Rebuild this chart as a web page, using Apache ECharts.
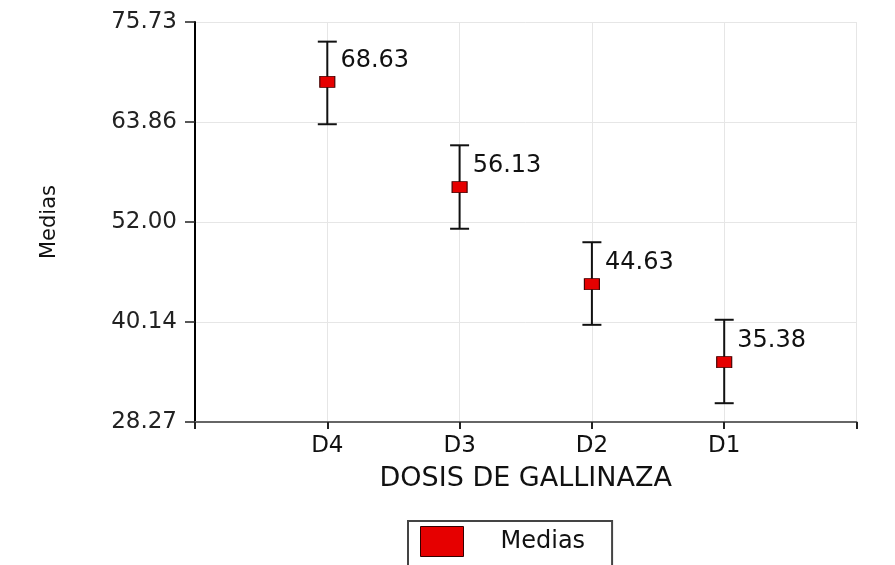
<!DOCTYPE html>
<html>
<head>
<meta charset="utf-8">
<script src="https://cdn.jsdelivr.net/npm/echarts@6/dist/echarts.min.js"></script>
<style>
html,body{margin:0;padding:0;background:#fff;}
#chart{width:895px;height:565px;}
</style>
</head>
<body>
<div id="chart"></div>
<script>
// ---- data ----
var categories = ['D4', 'D3', 'D2', 'D1'];
var means = [68.63, 56.13, 44.63, 35.38];
var lowers = [63.6, 51.2, 39.8, 30.5];
var uppers = [73.4, 61.1, 49.6, 40.4];
var yTickLabels = ['28.27', '40.14', '52.00', '63.86', '75.73'];
var yMin = 28.27, yMax = 75.73;
var seriesName = 'Medias';
var xAxisTitle = 'DOSIS DE GALLINAZA';
var yAxisTitle = 'Medias';

var FONT = 'DejaVu Sans';
var yInterval = (yMax - yMin) / (yTickLabels.length - 1);

var meanData = categories.map(function (c, i) { return [i + 1, means[i]]; });
var errData = categories.map(function (c, i) { return [i + 1, lowers[i], uppers[i]]; });

var chart = echarts.init(document.getElementById('chart'));
chart.setOption({
  backgroundColor: '#ffffff',
  animation: false,
  grid: { left: 195, right: 38.5, top: 22, bottom: 143 },
  xAxis: {
    type: 'value',
    min: 0,
    max: categories.length + 1,
    interval: 1,
    name: xAxisTitle,
    nameLocation: 'middle',
    nameGap: 43,
    nameTextStyle: { fontFamily: FONT, fontSize: 27, color: '#111' },
    axisLine: { show: true, onZero: false, lineStyle: { color: '#666', width: 2 } },
    axisTick: { show: true, length: 7, lineStyle: { color: '#222', width: 2 } },
    axisLabel: {
      fontFamily: FONT, fontSize: 23, color: '#111', margin: 13,
      formatter: function (v) { return categories[Math.round(v) - 1] || ''; }
    },
    splitLine: { show: true, lineStyle: { color: '#e6e6e6', width: 1 } }
  },
  yAxis: {
    type: 'value',
    min: yMin,
    max: yMax,
    interval: yInterval,
    name: yAxisTitle,
    nameLocation: 'middle',
    nameGap: 135,
    nameRotate: 90,
    nameTextStyle: { fontFamily: FONT, fontSize: 21, color: '#111' },
    axisLine: { show: true, onZero: false, lineStyle: { color: '#000', width: 2 } },
    axisTick: { show: true, length: 10, lineStyle: { color: '#222', width: 1.5 } },
    axisLabel: {
      fontFamily: FONT, fontSize: 23, color: '#222', margin: 18,
      showMinLabel: true, showMaxLabel: true,
      formatter: function (v) {
        var idx = Math.round((v - yMin) / yInterval);
        return yTickLabels[idx] || '';
      }
    },
    splitLine: { show: true, lineStyle: { color: '#e6e6e6', width: 1 } }
  },
  legend: {
    data: [seriesName],
    left: 408,
    top: 521,
    orient: 'horizontal',
    padding: [5, 27, 12, 12],
    borderColor: '#444',
    borderWidth: 2,
    borderRadius: 0,
    itemWidth: 43,
    itemHeight: 30,
    icon: 'rect',
    itemStyle: { color: '#e60000', borderColor: '#300', borderWidth: 1 },
    textStyle: { fontFamily: FONT, fontSize: 24, color: '#111', padding: [0, 0, 0, 32] }
  },
  series: [
    {
      name: 'err',
      type: 'custom',
      data: errData,
      z: 2,
      renderItem: function (params, api) {
        var x = api.value(0);
        var lo = api.coord([x, api.value(1)]);
        var hi = api.coord([x, api.value(2)]);
        var hw = 9.5;
        var style = { stroke: '#111', lineWidth: 2, fill: null };
        return {
          type: 'group',
          children: [
            { type: 'line', shape: { x1: lo[0], y1: lo[1], x2: hi[0], y2: hi[1] }, style: style },
            { type: 'line', shape: { x1: lo[0] - hw, y1: lo[1], x2: lo[0] + hw, y2: lo[1] }, style: style },
            { type: 'line', shape: { x1: hi[0] - hw, y1: hi[1], x2: hi[0] + hw, y2: hi[1] }, style: style }
          ]
        };
      }
    },
    {
      name: seriesName,
      type: 'scatter',
      data: meanData,
      z: 5,
      symbol: 'rect',
      symbolSize: [15, 11],
      itemStyle: { color: '#e60000', borderColor: '#400', borderWidth: 1, opacity: 1 },
      label: {
        show: true,
        position: 'right',
        distance: 5,
        offset: [0, -21],
        fontFamily: FONT,
        fontSize: 24,
        color: '#111',
        formatter: function (p) { return p.value[1].toFixed(2); }
      }
    }
  ]
});
</script>
</body>
</html>
